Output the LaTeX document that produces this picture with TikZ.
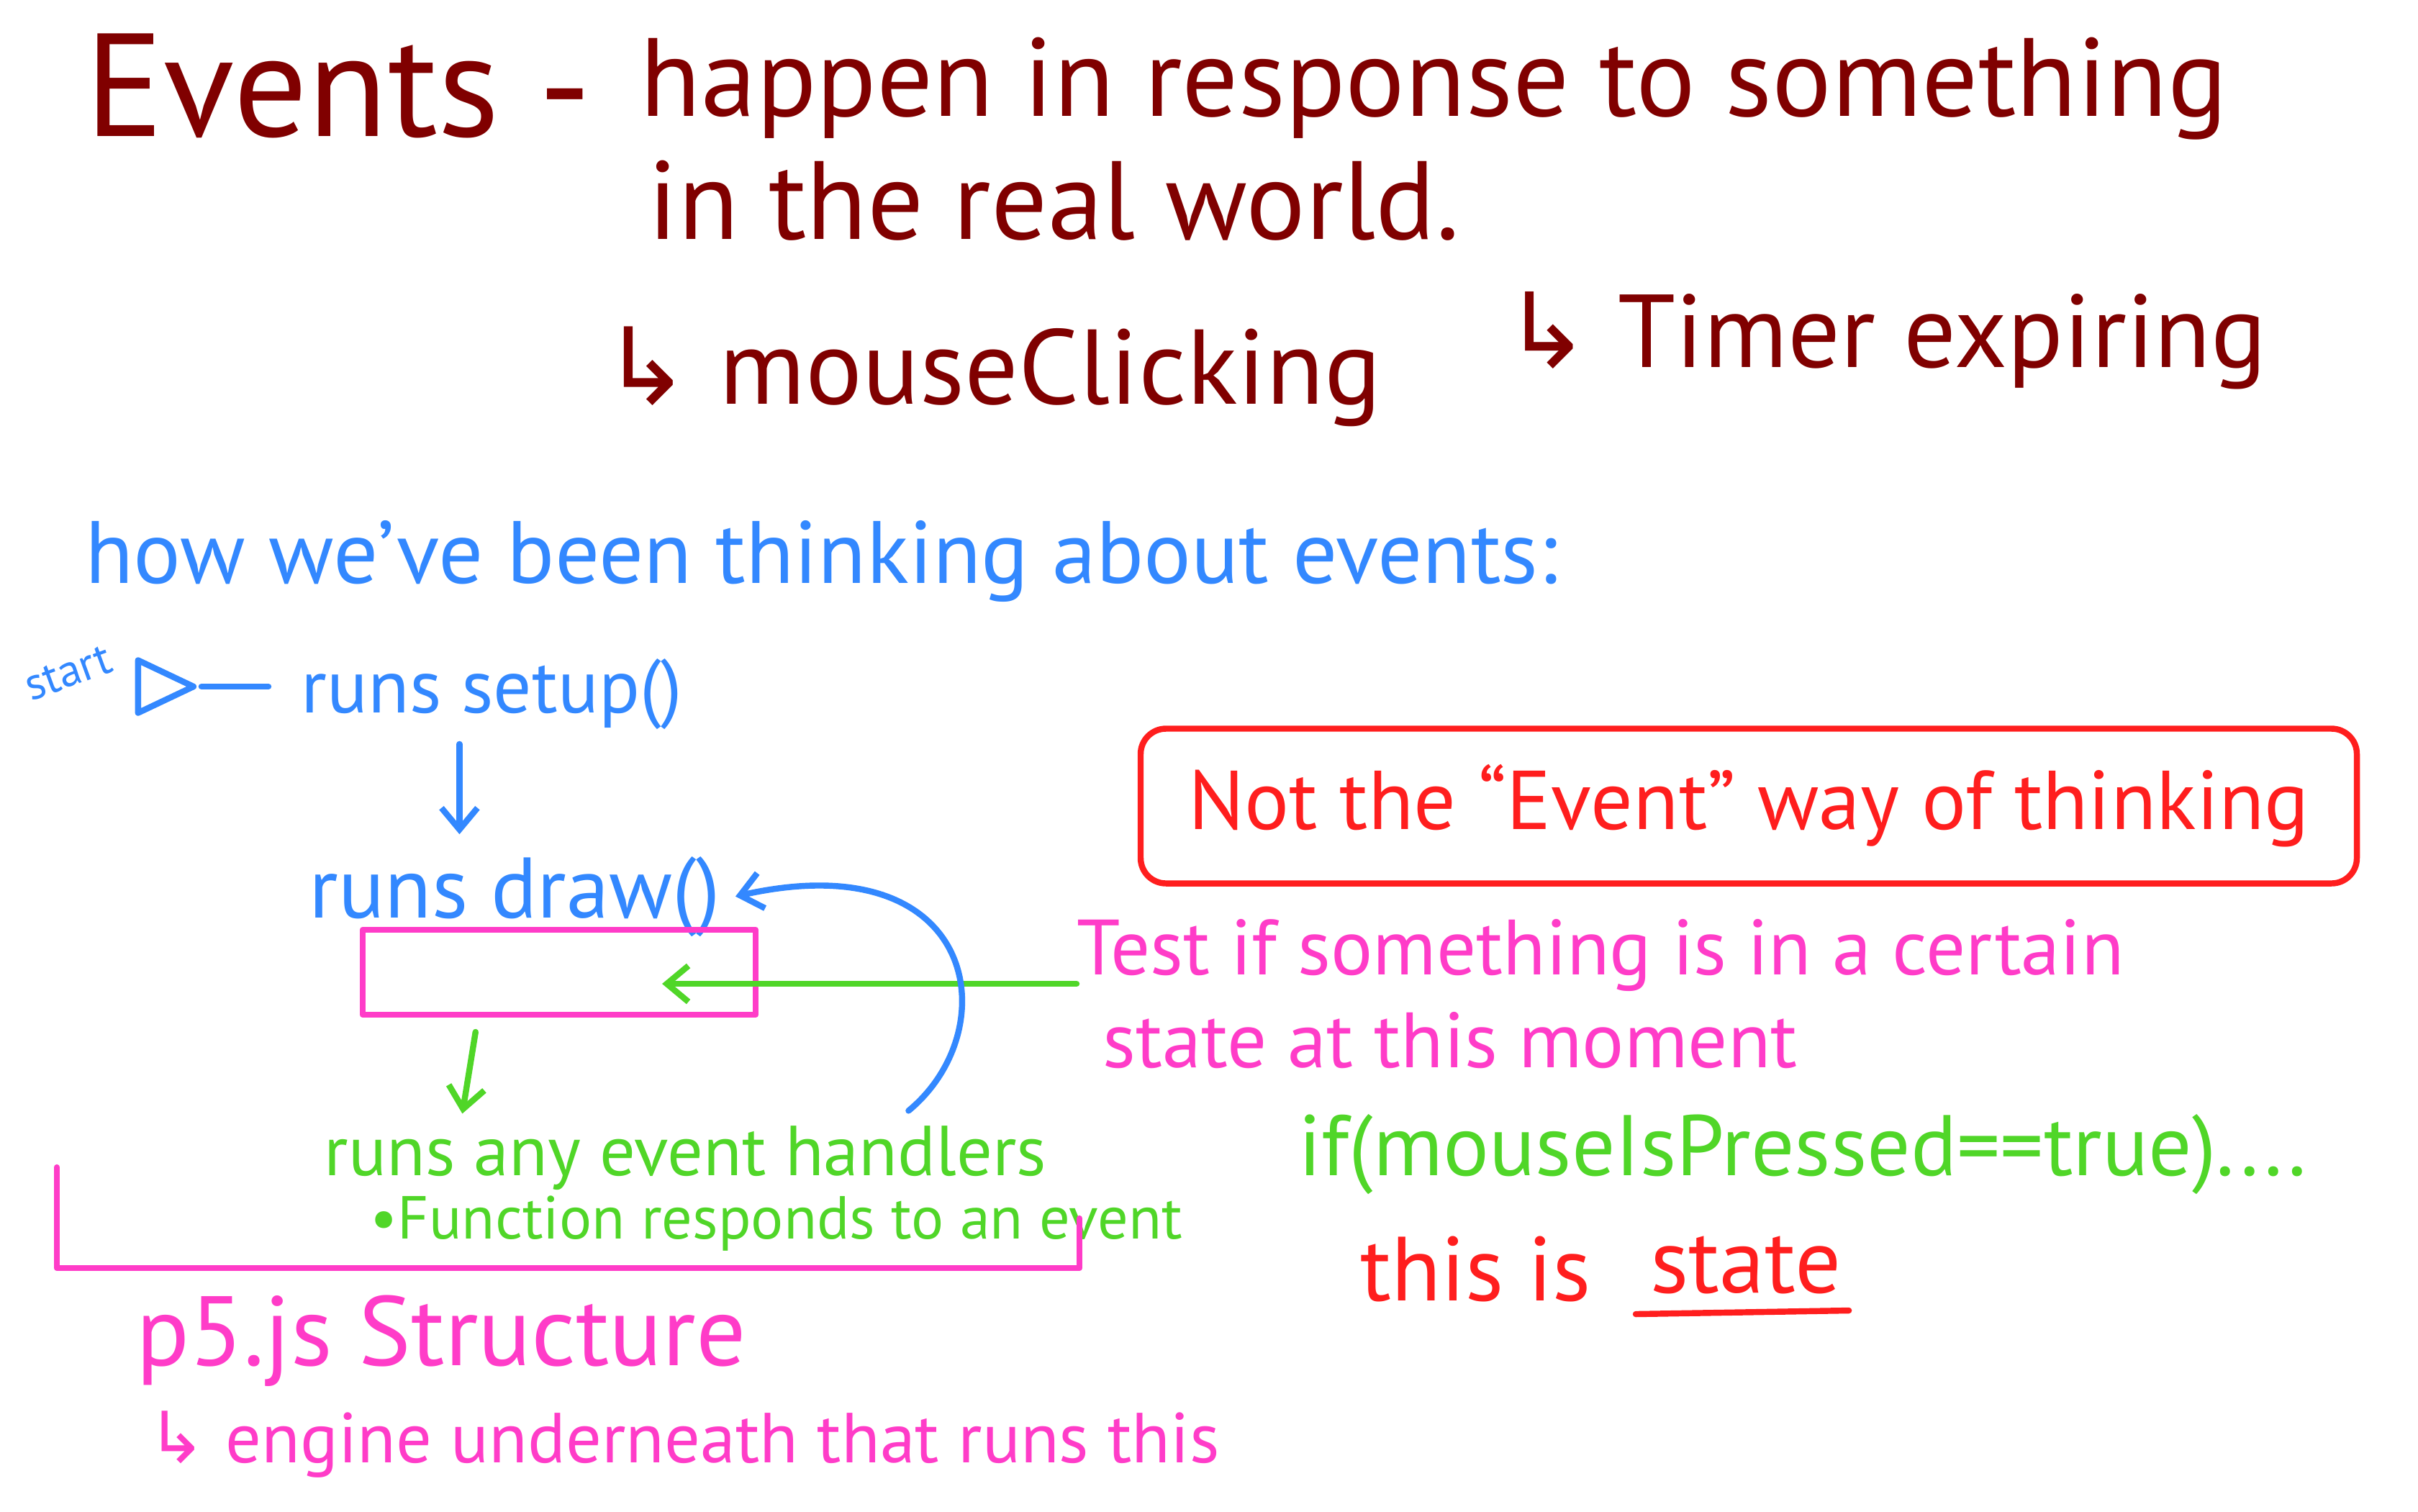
\documentclass[tikz,border=0pt]{standalone}
\usepackage{fontspec}
\setmainfont{PT Sans}
\newfontfamily\symfont{DejaVu Sans}
\usepackage{tikz}
\usetikzlibrary{arrows.meta,positioning,shapes.geometric}
\usepackage{xcolor}

\definecolor{inkdark}{RGB}{128,0,0}
\definecolor{inkblue}{RGB}{51,136,255}
\definecolor{inkgreen}{RGB}{80,214,40}
\definecolor{inkpink}{RGB}{255,60,200}
\definecolor{inkred}{RGB}{255,30,30}
\newcommand{\hookarr}{{\symfont ↳}}

\begin{document}
\begin{tikzpicture}[
  ink/.style={anchor=base west, inner sep=0pt, text=#1},
  pen/.style={draw=#1, line width=2.4pt, line cap=round, line join=round},
  >={Straight Barb[length=3mm,width=5mm]}
]
  \useasboundingbox (0,0) rectangle (33.6,-21);

  % heading
  \node[ink=inkdark, font=\fontsize{58}{62}\selectfont] (events) at (1.18,-1.89) {Events -};
  \node[ink=inkdark, font=\fontsize{44}{48}\selectfont] (happen) at (8.89,-1.61) {happen in response to something};
  \node[ink=inkdark, font=\fontsize{44}{48}\selectfont] (world) at (9.0,-3.32) {in the real world.};
  \node[ink=inkdark, font=\fontsize{42}{46}\selectfont] (mouse) at (8.36,-5.61) {\hookarr\ mouseClicking};
  \node[ink=inkdark, font=\fontsize{41}{45}\selectfont] (timer) at (20.89,-5.10) {\hookarr\ Timer expiring};

  % the loop
  \node[ink=inkblue, font=\fontsize{35}{39}\selectfont] (how) at (1.18,-8.10) {how we've been thinking about events:};
  \node[isosceles triangle, isosceles triangle stretches, pen=inkblue,
        minimum width=0.73cm, minimum height=0.77cm, inner sep=0pt] (start) at (2.15,-9.54) {};
  \node[rotate=20, text=inkblue, font=\fontsize{18}{20}\selectfont] (startlabel) at (0.95,-9.35) {start};
  \node[ink=inkblue, font=\fontsize{30}{34}\selectfont] (setup) at (4.18,-9.9) {runs setup()};
  \node[ink=inkblue, font=\fontsize{34}{38}\selectfont] (drawn) at (4.29,-12.75) {runs draw()};
  \node[pen=inkpink, minimum width=5.46cm, minimum height=1.18cm] (loopbox) at (7.77,-13.51) {};
  \node[ink=inkgreen, font=\fontsize{28}{32}\selectfont] (handlers) at (4.5,-16.33) {runs any event handlers};
  \node[ink=inkgreen, font=\fontsize{24}{28}\selectfont] (function) at (5.14,-17.21) {•Function responds to an event};
  \node[ink=inkpink, font=\fontsize{39}{43}\selectfont] (p5) at (1.89,-18.97) {p5.js Structure};
  \node[ink=inkpink, font=\fontsize{28}{32}\selectfont] (engine) at (2.04,-20.32) {\hookarr\ engine underneath that runs this};

  % state
  \node[pen=inkred, rounded corners=10pt, minimum width=16.9cm, minimum height=2.15cm,
        text=inkred, font=\fontsize{33}{38}\selectfont] (notevent) at (24.3,-11.2) {Not the “Event” way of thinking};
  \node[ink=inkpink, font=\fontsize{31}{35}\selectfont] (test) at (14.96,-13.54) {Test if something is in a certain};
  \node[ink=inkpink, font=\fontsize{31}{35}\selectfont] (stateat) at (15.32,-14.83) {state at this moment};
  \node[ink=inkgreen, font=\fontsize{34}{38}\selectfont] (ifpressed) at (18.04,-16.33) {if(mouseIsPressed==true)....};
  \node[ink=inkred, font=\fontsize{36}{40}\selectfont] (thisis) at (18.9,-18.07) {this is};
  \node[ink=inkred, font=\fontsize{36}{40}\selectfont] (state) at (22.93,-17.96) {state};

  \coordinate (check) at (9.2,-13.67);

  \draw[pen=inkblue] (start.east) -- ([xshift=-0.45cm]setup.west |- start.east);
  \draw[pen=inkblue, ->, shorten <=0.2cm, shorten >=0.3cm] ([xshift=-0.45cm]setup.south) -- ([xshift=-0.45cm]setup.south |- drawn.north);
  \draw[pen=inkgreen, ->] (test.base west |- check) -- (check);
  \draw[pen=inkgreen, ->, shorten <=0.2cm] ([xshift=-1.13cm]loopbox.south) -- ([xshift=-3.1cm,yshift=0.16cm]handlers.north);
  \draw[pen=inkblue, ->] ([xshift=3.1cm,yshift=0.2cm]handlers.north) .. controls (14.0,-14.3) and (13.6,-11.7) .. ([xshift=0.2cm]drawn.east);
  \draw[pen=inkpink] (0.79,-16.22) -- (0.79,-17.62) -- (15.0,-17.62) -- (15.0,-16.93);
  \draw[pen=inkred] ([xshift=-0.2cm,yshift=-0.3cm]state.base west) -- ([xshift=0.1cm,yshift=-0.25cm]state.base east);
\end{tikzpicture}
\end{document}
